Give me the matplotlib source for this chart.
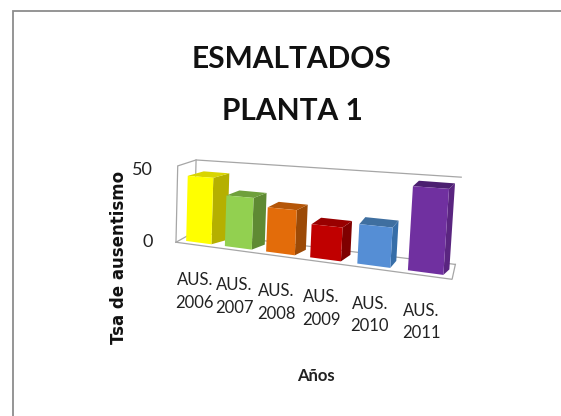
import numpy as np
import matplotlib
matplotlib.use("Agg")
import matplotlib.pyplot as plt
from matplotlib.patches import Polygon
from matplotlib.lines import Line2D

title = "ESMALTADOS\nPLANTA 1"
categories = ["AUS.\n2006", "AUS.\n2007", "AUS.\n2008", "AUS.\n2009", "AUS.\n2010", "AUS.\n2011"]
values = [43, 32.5, 27.5, 20, 23, 47]
y_ticks = [0, 50]
y_label = "Tsa de ausentismo"
x_label = "Años"
front_colors = ["#FFFF00", "#92D050", "#E36C0A", "#C00000", "#558ED5", "#7030A0"]
side_colors = ["#B5B000", "#5F8A33", "#9C4A06", "#7F0000", "#376EA8", "#5A2580"]
top_colors = ["#D9D500", "#6FA03C", "#B55608", "#990000", "#3F6FA0", "#4B1F70"]

# perspective camera: category slot (0..6), value (0..50), depth (0..1) -> picture position
anchors_3d = [(0, 0, 0), (6, 0, 0), (0, 0, 1), (6, 0, 1), (0, 50, 1), (6, 50, 1), (0, 50, 0), (6, 50, 0)]
anchors_px = [(180, 240), (453, 283), (190, 235), (455, 260), (200, 160), (462, 178), (174, 165), (457, 186)]
rows = []
rhs = []
for (u, v, w), (px, py) in zip(anchors_3d, anchors_px):
    rows.append([u, v, w, 1, 0, 0, 0, 0, -px * u, -px * v, -px * w])
    rhs.append(px)
    rows.append([0, 0, 0, 0, u, v, w, 1, -py * u, -py * v, -py * w])
    rhs.append(py)
m = np.linalg.lstsq(np.array(rows, float), np.array(rhs, float), rcond=None)[0]
P = np.append(m, 1).reshape(3, 4)


def project(u, v, w):
    q = P @ np.array([u, v, w, 1.0])
    return q[0] / q[2], q[1] / q[2]


fig = plt.figure(figsize=(5.61, 4.16), dpi=100)
ax = fig.add_axes([0, 0, 1, 1])
ax.set_xlim(0, 561)
ax.set_ylim(416, 0)
ax.axis("off")
frame = "#8c8c8c"
ax.add_line(Line2D([13.5, 13.5, 561], [416, 10.5, 10.5], color=frame, lw=1.3, solid_joinstyle="miter"))

grid = "#a6a6a6"
box_lines = [[(0, 0, 0), (6, 0, 0), (6, 0, 1)], [(0, 0, 1), (6, 0, 1)], [(0, 0, 0), (0, 0, 1)],
             [(0, 0, 0), (0, 50, 0), (0, 50, 1), (6, 50, 1)], [(0, 0, 1), (0, 50, 1)]]
for line in box_lines:
    pts = [project(*p) for p in line]
    ax.plot(*zip(*pts), color=grid, lw=0.9, zorder=1, solid_joinstyle="miter")

gap, w0 = 0.17, 0.2
depth_dx = [16, 13, 11, 9.5, 6, 6]
depth_dy = [-4.5, -5, -5.5, -6.5, -7, -5.5]
text_font = "Lato"
text_color = "#222222"
for i, val in enumerate(values):
    a, b = i + gap, i + 1 - gap
    dx, dy = depth_dx[i], depth_dy[i]
    front = [project(a, 0, w0), project(b, 0, w0), project(b, val, w0), project(a, val, w0)]
    side = [front[1], (front[1][0] + dx, front[1][1] + dy), (front[2][0] + dx, front[2][1] + dy), front[2]]
    top = [front[3], front[2], (front[2][0] + dx, front[2][1] + dy), (front[3][0] + dx, front[3][1] + dy)]
    z = 2 + i
    ax.add_patch(Polygon(side, fc=side_colors[i], ec="none", zorder=z))
    ax.add_patch(Polygon(top, fc=top_colors[i], ec="none", zorder=z))
    ax.add_patch(Polygon(front, fc=front_colors[i], ec="none", zorder=z))
    bx = (front[0][0] + front[1][0]) / 2
    by = max(front[0][1], front[1][1])
    ax.text(bx - 4, by + 47, categories[i], ha="center", va="center", fontsize=12,
            family=text_font, linespacing=1.5, color=text_color, zorder=20)

ax.text(153, 170, str(y_ticks[1]), ha="right", va="center", fontsize=13, family=text_font, color=text_color)
ax.text(153, 242, str(y_ticks[0]), ha="right", va="center", fontsize=13, family=text_font, color=text_color)
ax.text(119, 257, y_label, rotation=90, ha="center", va="center", fontsize=12, weight="bold",
        family="DejaVu Sans", color="#111111")
ax.text(316, 376, x_label, ha="center", va="center", fontsize=12, weight="bold", family=text_font, color="#222222")
ax.text(292, 85, title, ha="center", va="center", fontsize=21.5, weight="bold", family=text_font,
        linespacing=2.0, color="#111111")

fig.savefig("out.png", dpi=100)
